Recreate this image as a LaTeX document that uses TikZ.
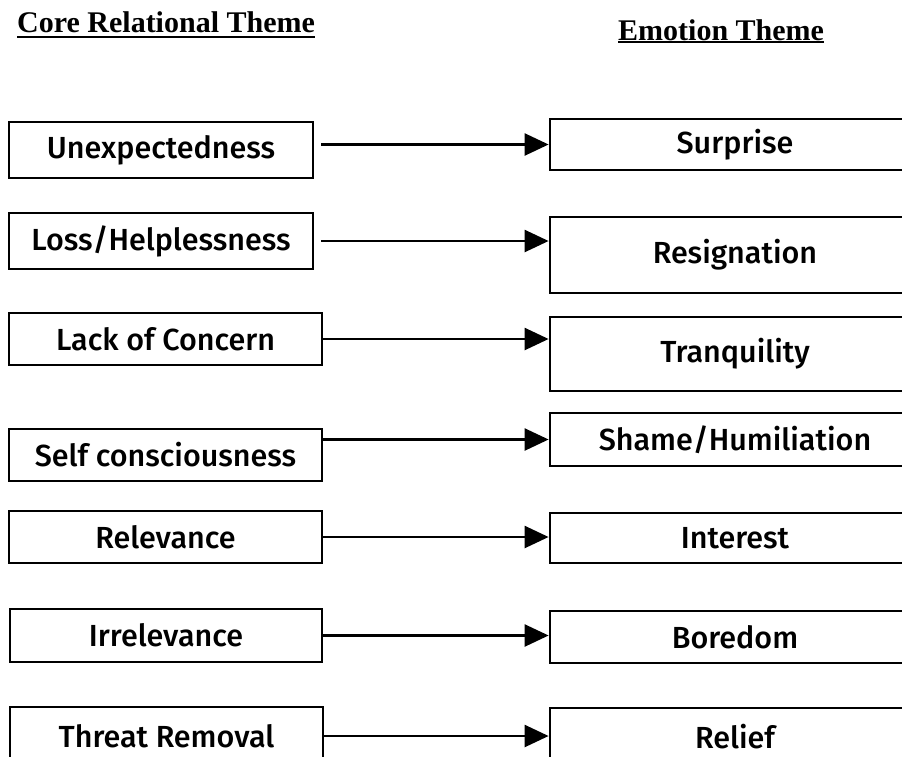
\documentclass[tikz,border=0pt]{standalone}
\usepackage{fontspec}
\setmainfont{Fira Sans}[BoldFont=Fira Sans Medium]
\newfontfamily\headfont{Liberation Serif}
\usetikzlibrary{arrows.meta}

\tikzset{
  themebox/.style={draw, line width=2.8pt, inner sep=0pt, align=center,
    font=\fontsize{30.5}{34}\selectfont\bfseries},
  heading/.style={inner sep=0pt, anchor=base west,
    font=\headfont\fontsize{30}{34}\selectfont\bfseries},
  headrule/.style={line width=2.8pt},
  link/.style={line width=2.4pt, -{Triangle[length=24pt,width=22pt]}}
}

\begin{document}
\begin{tikzpicture}[x=1pt,y=-1pt]
\useasboundingbox (0,0) rectangle (902,756);
\clip (0,0) rectangle (902,756);

% column headings
\node[heading] (h1) at (17,32) {Core Relational Theme};
\node[heading] (h2) at (618,40) {Emotion Theme};
\draw[headrule] ([yshift=-5pt]h1.base west) -- ([yshift=-5pt]h1.base east);
\draw[headrule] ([yshift=-2pt]h2.base west) -- ([yshift=-2pt]h2.base east);

% appraisal themes (left column)
\node[themebox, minimum width=304pt, minimum height=56pt] (l1) at (161,150)   {Unexpectedness};
\node[themebox, minimum width=304pt, minimum height=56pt] (l2) at (161,241)   {Loss/Helplessness};
\node[themebox, minimum width=313pt, minimum height=52pt] (l3) at (165.5,339) {Lack of Concern};
\node[themebox, minimum width=313pt, minimum height=52pt] (l4) at (165.5,455) {Self consciousness};
\node[themebox, minimum width=313pt, minimum height=52pt] (l5) at (165.5,537) {Relevance};
\node[themebox, minimum width=312pt, minimum height=53pt] (l6) at (166,635.5) {Irrelevance};
\node[themebox, minimum width=313pt, minimum height=58pt] (l7) at (166.5,736) {Threat Removal};

% emotions (right column)
\node[themebox, minimum width=370pt, minimum height=51pt] (r1) at (735,144.5) {Surprise};
\node[themebox, minimum width=370pt, minimum height=76pt] (r2) at (735,255)   {Resignation};
\node[themebox, minimum width=370pt, minimum height=74pt] (r3) at (735,354)   {Tranquility};
\node[themebox, minimum width=370pt, minimum height=53pt] (r4) at (735,439.5) {Shame/Humiliation};
\node[themebox, minimum width=370pt, minimum height=50pt] (r5) at (735,538)   {Interest};
\node[themebox, minimum width=370pt, minimum height=52pt] (r6) at (735,637)   {Boredom};
\node[themebox, minimum width=370pt, minimum height=58pt] (r7) at (735,737)   {Relief};

% theme -> emotion links
\draw[link] ([xshift=7pt]l1.east |- r1.west) -- (r1.west);
\draw[link] ([xshift=7pt]l2.east) -- (r2.west |- l2.east);
\draw[link] (l3.east) -- (r3.west |- l3.east);
\draw[link] (l4.east |- r4.west) -- (r4.west);
\draw[link] (l5.east) -- (r5.west |- l5.east);
\draw[link] (l6.east) -- (r6.west |- l6.east);
\draw[link] (l7.east) -- (r7.west |- l7.east);
\end{tikzpicture}
\end{document}
